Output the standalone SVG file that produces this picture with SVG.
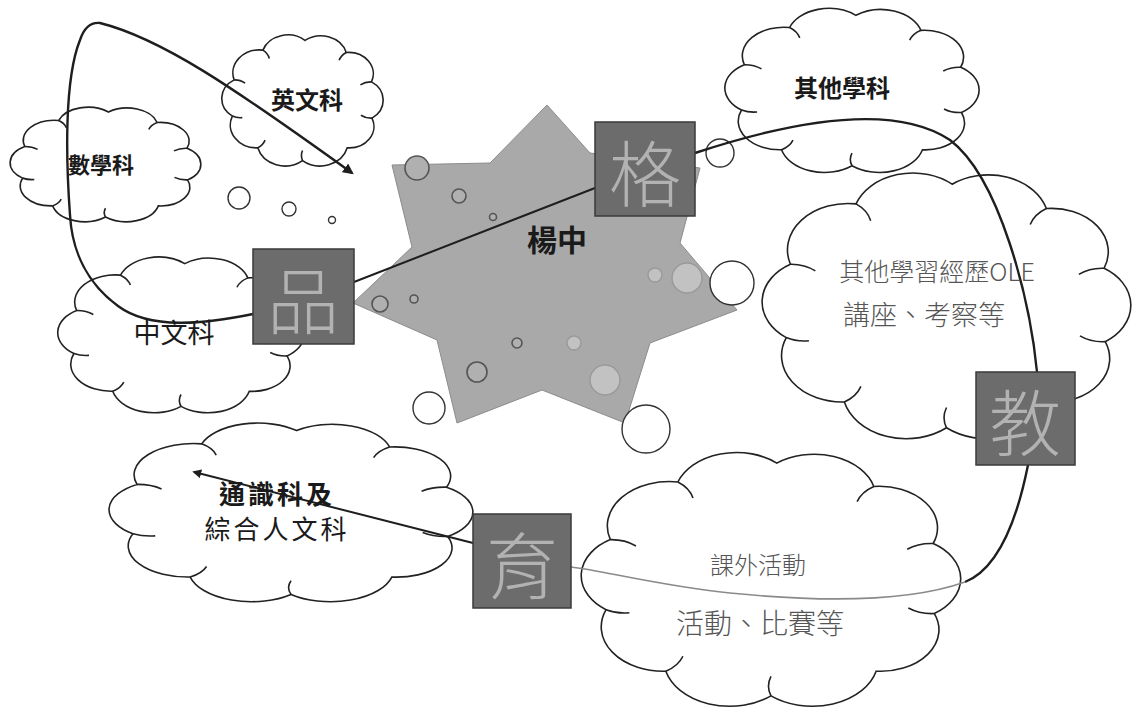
<svg xmlns="http://www.w3.org/2000/svg" xmlns:xlink="http://www.w3.org/1999/xlink" width="1136" height="712" viewBox="0 0 1136 712">
<style>
.cb{fill:#fff;stroke:#222;stroke-width:1.6;vector-effect:non-scaling-stroke}
.ch{fill:none;stroke:#222;stroke-width:1.6;vector-effect:non-scaling-stroke}
.gray .cb,.gray .ch{stroke:#777;stroke-width:1.3}
.bub{fill:#b0b0b0;stroke:#555;stroke-width:1.6}
.bubl{fill:#c2c2c2;stroke:#999;stroke-width:1.4}
.wc{fill:#fff;stroke:#333;stroke-width:1.4}
.box{fill:#6c6c6c;stroke:#3a3a3a;stroke-width:1.5}
.bt{font-family:"Noto Sans CJK TC","Noto Sans CJK SC",sans-serif;font-size:72px;fill:#b2b2b2;text-anchor:middle;dominant-baseline:central;font-weight:300}
.t{font-family:"Noto Sans CJK TC","Noto Sans CJK SC",sans-serif;fill:#1a1a1a;text-anchor:middle;dominant-baseline:central}
.tg{font-family:"Noto Sans CJK TC","Noto Sans CJK SC",serif;fill:#555;text-anchor:middle;dominant-baseline:central;font-weight:300}
.ln{fill:none;stroke:#1e1e1e;stroke-width:2.4}
.thin{stroke-width:2}
.faint{stroke:#8a8a8a;stroke-width:1.6}
</style>
<defs>
<g id="cloud">
<path class="cb" d="M7.5,60.9 A15,15 0 0 1 8.6,35.6 A16,16 0 0 1 26,14.8 A16,16 0 0 1 51.5,8 A16,16 0 0 1 76.5,16.4 A15,15 0 0 1 91.8,37 A15,15 0 0 1 92.1,62.3 A15,15 0 0 1 77.1,83.1 A17,17 0 0 1 50,92 A17,17 0 0 1 22.9,83.1 A16,16 0 0 1 7.5,60.9 Z"/>
<path class="ch" d="M8.6,35.6 A10,10 0 0 1 15.2,37.9 M26,14.8 A10,10 0 0 1 29.9,20.6 M76.5,16.4 A10,10 0 0 0 72.2,21.9 M91.8,37 A10,10 0 0 0 85.1,39.1 M92.1,62.3 A10,10 0 0 1 85.4,60.3 M50,92 A10,10 0 0 1 50,85 M22.9,83.1 A10,10 0 0 0 27.3,77.7 M7.5,60.9 A10,10 0 0 0 13.5,62"/>
</g>
<marker id="ah" viewBox="0 0 10 10" refX="8" refY="5" markerWidth="4.5" markerHeight="4.5" orient="auto" markerUnits="strokeWidth">
<path d="M0,0 L10,5 L0,10 z" fill="#1e1e1e"/>
</marker>
</defs>

<g id="clouds">
<g id="cloud-math"><use xlink:href="#cloud" transform="translate(8,102) scale(1.95,1.25)"/></g>
<g id="cloud-eng"><use xlink:href="#cloud" transform="translate(220,29) scale(1.65,1.43)"/></g>
<g id="cloud-other"><use xlink:href="#cloud" transform="translate(722,1) scale(2.6,1.79)"/></g>
<g id="cloud-ole" class="gray"><use xlink:href="#cloud" transform="translate(758,161) scale(3.77,2.9)"/></g>
<g id="cloud-chi"><use xlink:href="#cloud" transform="translate(55,250) scale(2.52,1.7)"/></g>
<g id="cloud-ls"><use xlink:href="#cloud" transform="translate(105,415) scale(3.72,1.95)"/></g>
<g id="cloud-eca" class="gray"><use xlink:href="#cloud" transform="translate(577,441) scale(3.88,2.77)"/></g>
</g>

<g id="star">
<polygon points="547,105 590,153 700,168 680,243 737,310 650,343 625,423 542,390 457,423 437,340 353,303 412,247 392,165 490,163" fill="#a9a9a9" stroke="#8c8c8c" stroke-width="1"/>
<circle class="bub" cx="417" cy="168" r="12"/>
<circle class="bub" cx="459" cy="196" r="7"/>
<circle class="bub" cx="493" cy="217" r="3.5"/>
<circle class="bub" cx="380" cy="304" r="8"/>
<circle class="bub" cx="414" cy="299" r="4"/>
<circle class="bub" cx="517" cy="343" r="5"/>
<circle class="bubl" cx="574" cy="343" r="7"/>
<circle class="bub" cx="477" cy="372" r="10"/>
<circle class="bubl" cx="605" cy="380" r="15"/>
<circle class="bubl" cx="655" cy="275" r="7"/>
<circle class="bubl" cx="687" cy="278" r="15"/>
</g>

<g id="bubbles">
<circle class="wc" cx="732" cy="283" r="22"/>
<circle class="wc" cx="429" cy="408" r="16"/>
<circle class="wc" cx="646" cy="429" r="24"/>
<circle class="wc" cx="720" cy="153" r="14"/>
<circle class="wc" cx="239" cy="198" r="11"/>
<circle class="wc" cx="289" cy="209" r="7"/>
<circle class="wc" cx="332" cy="220" r="3.5"/>
</g>

<g id="connectors">
<path class="ln" d="M253,314 C205,324 150,330 118,306 C88,284 72,252 70,215 C66,160 64,80 80,40 C84,28 90,22 100,23 C160,38 230,85 352,173" marker-end="url(#ah)"/>
<path class="ln thin" d="M354,282 L595,188"/>
<path class="ln" d="M695,153 C780,125 890,100 950,140 C1000,178 1030,300 1037,372"/>
<path class="ln" d="M1028,465 C1015,530 995,570 965,582"/>
<path class="ln faint" d="M965,582 C900,605 800,600 730,593 C660,586 600,570 571,567"/>
<path class="ln thin" d="M473,543 L194,472" marker-end="url(#ah)"/>
</g>

<g id="box-ge"><rect class="box" x="595" y="122" width="100" height="94"/><text class="bt" x="645" y="169">格</text></g>
<g id="box-pin"><rect class="box" x="253" y="249" width="101" height="95"/><text class="bt" x="303" y="296">品</text></g>
<g id="box-jiao"><rect class="box" x="976" y="372" width="99" height="93"/><text class="bt" x="1025" y="418">教</text></g>
<g id="box-yu"><rect class="box" x="473" y="514" width="98" height="94"/><text class="bt" x="522" y="561">育</text></g>

<g id="labels">
<text class="t" x="101" y="163" font-size="22" font-weight="700">數學科</text>
<text class="t" x="307" y="98" font-size="24" font-weight="700">英文科</text>
<text class="t" x="842" y="86" font-size="24" font-weight="700">其他學科</text>
<text class="t" x="557" y="238" font-size="30" font-weight="700">楊中</text>
<text class="t" x="174" y="331" font-size="27">中文科</text>
<text class="t" x="277" y="492" font-size="26" font-weight="700" letter-spacing="3">通識科及</text>
<text class="t" x="277" y="527" font-size="26" letter-spacing="3">綜合人文科</text>
<text class="tg" x="937" y="270" font-size="25">其他學習經歷OLE</text>
<text class="tg" x="924" y="313" font-size="27">講座、考察等</text>
<text class="tg" x="758" y="563" font-size="24">課外活動</text>
<text class="tg" x="760" y="622" font-size="28">活動、比賽等</text>
</g>
</svg>
